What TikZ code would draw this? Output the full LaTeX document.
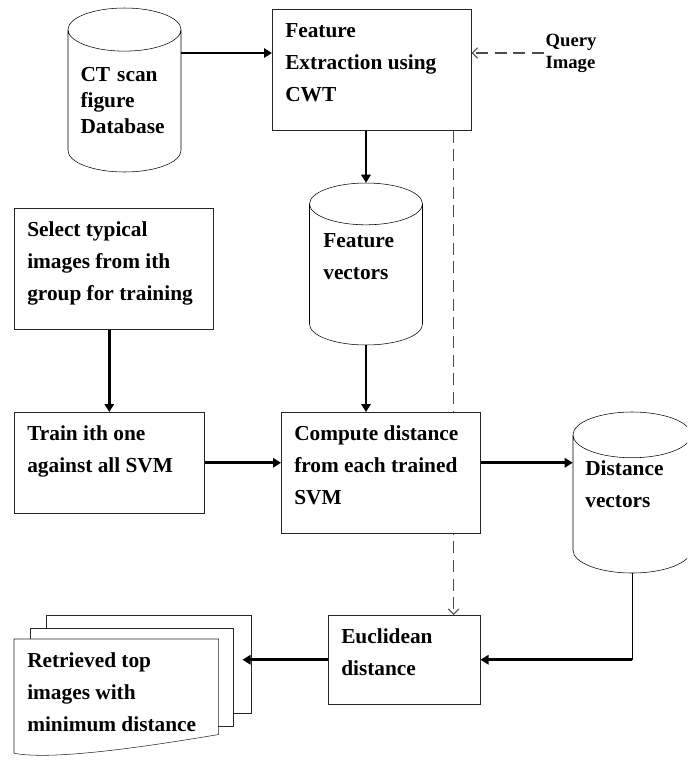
\documentclass[tikz,border=0pt]{standalone}
\usepackage{fontspec}
\setmainfont{Liberation Serif}
\usetikzlibrary{shapes.geometric,arrows.meta,positioning,backgrounds}
\newcommand{\boxtext}[3]{\parbox[c][#2][t]{#1}{\raggedright\leftskip=9.75pt\vspace*{4.2pt}\strut#3}}
\newcommand{\dbtext}[3]{\parbox[c][#2][t]{#1}{\raggedright#3}}
\tikzset{%
	box/.style={rectangle, draw=black!85, thin, fill=white, inner sep=0pt, anchor=north west},
	db/.style={cylinder, shape border rotate=90, aspect=0.49, draw, thin, fill=white, inner sep=0pt, align=left, anchor=shape center},
	arr/.style={draw, line width=2pt, -{Triangle[length=6pt,width=7pt]}},
	qarr/.style={draw=black!70, line width=0.8pt, dash pattern=on 9pt off 5pt, -{Straight Barb[length=4pt,width=8pt]}}
}

\begin{document}
\begin{tikzpicture}[x=0.75pt, y=-0.75pt, every node/.style={font=\bfseries\fontsize{16}{24}\selectfont}]
	\useasboundingbox (0,0) rectangle (687,761);
	\clip (0,0) rectangle (687,761);

	% stores
	\node[db, minimum width=84.75pt, minimum height=123pt, text width=66pt, font=\bfseries\fontsize{16}{19.5}\selectfont] (ct) at (124.5,90) {CT scan\\figure\\Database};
	\node[db, minimum width=84.75pt, minimum height=121.5pt] (fv) at (366,264) {\dbtext{64pt}{61pt}{Feature\\vectors}};
	\node[db, minimum width=88.5pt, minimum height=120.75pt] (dv) at (632,492.5) {\dbtext{70pt}{65.5pt}{Distance\\vectors}};

	% processing steps
	\node[box] (fe) at (272,9) {\boxtext{149.25pt}{90.75pt}{Feature\\Extraction using\\CWT}};
	\node[box] (sel) at (14,208) {\boxtext{149.25pt}{90.75pt}{Select typical\\images from ith\\group for training}};
	\node[box] (tr) at (14,412) {\boxtext{142.5pt}{75.75pt}{Train ith one\\against all SVM}};
	\node[box] (cp) at (281,412) {\boxtext{149.25pt}{90.75pt}{Compute distance\\from each trained\\SVM}};
	\node[box] (eu) at (328,615) {\boxtext{114pt}{66.75pt}{Euclidean\\distance}};
	\node[anchor=west, align=left, inner sep=1pt, font=\bfseries\fontsize{14}{16.5}\selectfont] (q) at (544,53) {Query\\Image};

	% retrieved pages
	\node[box, minimum width=153.75pt, minimum height=73.5pt] (pg3) at (46,615) {};
	\node[box, minimum width=152.25pt, minimum height=73.5pt] (pg2) at (30,628) {};
	\node[box, draw=none] (pg1) at (14,639) {\boxtext{153pt}{71.25pt}{Retrieved top\\images with\\minimum distance}};
	\draw[black!85, thin] (pg1.south east) -- (pg1.north east) -- (pg1.north west) -- ([yshift=-14pt]pg1.south west)
		.. controls +(40,8) and +(-60,10) .. (pg1.south east);

	% flow
	\draw[arr] (ct.east |- q.west) -- (fe.west |- q.west);
	\draw[qarr] (q.west) -- (fe.east |- q.west);
	\draw[arr] (fe.south -| fv.north) -- (fv.north);
	\draw[arr] (fv.south) -- (fv.south |- cp.north);
	\draw[arr] (tr.north |- sel.south) -- (tr.north);
	\draw[arr] (tr.east) -- (tr.east -| cp.west);
	\draw[arr] (cp.east |- tr.east) -- (dv.west |- tr.east);
	\coordinate (qd) at ([xshift=-13.5pt]fe.south east);
	\begin{scope}[on background layer]
		\draw[qarr] (qd) -- (qd |- eu.north);
	\end{scope}
	\coordinate (turn) at (dv.south |- eu.east);
	\draw[thin] (dv.south) -- (turn);
	\draw[arr] (turn) -- (eu.east);
	\draw[arr, shorten >=-6.75pt] (eu.west) -- (eu.west -| pg3.east);
\end{tikzpicture}
\end{document}
